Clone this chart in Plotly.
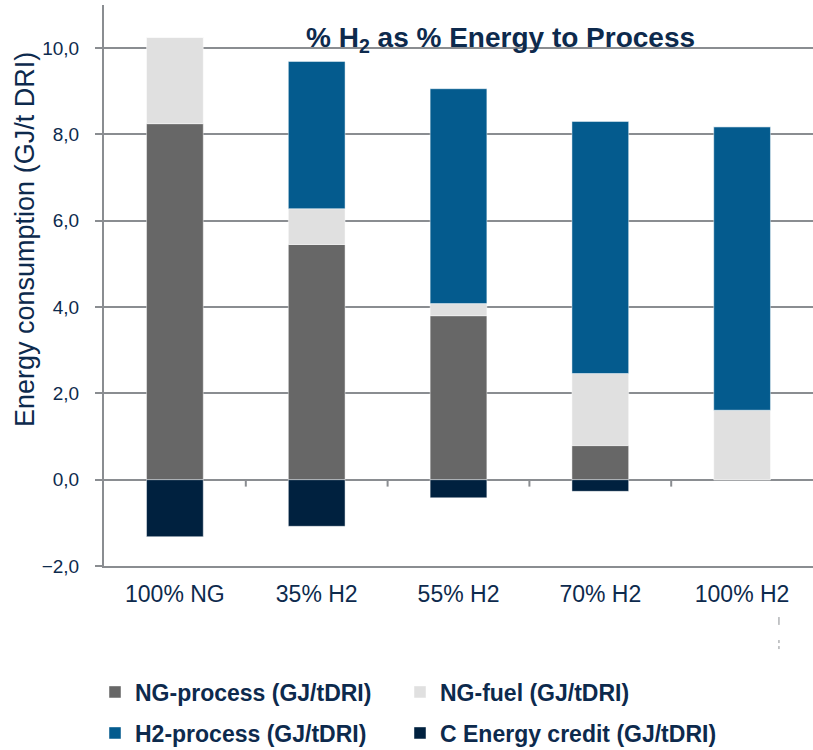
import plotly.graph_objects as go

categories = ["100% NG", "35% H2", "55% H2", "70% H2", "100% H2"]
ng_process = [8.25, 5.45, 3.80, 0.79, 0.0]
ng_fuel = [2.00, 0.83, 0.28, 1.67, 1.61]
h2_process = [0.0, 3.41, 4.98, 5.84, 6.57]
c_credit = [-1.32, -1.08, -0.42, -0.27, 0.0]
y_ticks = [-2, 0, 2, 4, 6, 8, 10]

NAVY = "#0d2a4d"
GRID = "#8a8d91"
FONT = "Liberation Sans, Arial, sans-serif"

fig = go.Figure()
line = dict(color="rgba(255,255,255,0.45)", width=1)
fig.add_trace(go.Bar(x=categories, y=ng_process, name="NG-process (GJ/tDRI)",
                     marker=dict(color="#676767", line=line), legend="legend"))
fig.add_trace(go.Bar(x=categories, y=ng_fuel, name="NG-fuel (GJ/tDRI)",
                     marker=dict(color="#e0e0e0", line=line), legend="legend2"))
fig.add_trace(go.Bar(x=categories, y=h2_process, name="H2-process (GJ/tDRI)",
                     marker=dict(color="#045b8e", line=line), legend="legend3"))
fig.add_trace(go.Bar(x=categories, y=c_credit, name="C Energy credit (GJ/tDRI)",
                     marker=dict(color="#00213f", line=line), legend="legend4"))

shapes = []
for b in [0.5, 1.5, 2.5, 3.5]:
    shapes.append(dict(type="line", xref="x", yref="y", x0=b, x1=b, y0=0, y1=-0.16,
                       line=dict(color=GRID, width=2), layer="above"))
# small dashed artifacts bottom right
shapes.append(dict(type="line", xref="paper", yref="paper", x0=0.952, x1=0.952,
                   y0=-0.091, y1=-0.105, line=dict(color=GRID, width=1)))
shapes.append(dict(type="line", xref="paper", yref="paper", x0=0.952, x1=0.952,
                   y0=-0.132, y1=-0.153, line=dict(color=GRID, width=1, dash="dot")))

legend_common = dict(orientation="h", xref="container", yref="container",
                     xanchor="left", yanchor="middle",
                     font=dict(family=FONT, size=23, color=NAVY, weight="bold"),
                     bgcolor="rgba(0,0,0,0)", itemclick=False, itemdoubleclick=False)

fig.update_layout(
    width=813, height=750,
    margin=dict(l=104, r=0, t=5, b=184, autoexpand=False),
    paper_bgcolor="white", plot_bgcolor="white",
    barmode="relative", bargap=0.6,
    separators=", ",
    font=dict(family=FONT, color=NAVY),
    showlegend=True,
    legend=dict(legend_common, x=95 / 813, y=1 - 692 / 750),
    legend2=dict(legend_common, x=400 / 813, y=1 - 692 / 750),
    legend3=dict(legend_common, x=95 / 813, y=1 - 733 / 750),
    legend4=dict(legend_common, x=400 / 813, y=1 - 733 / 750),
    xaxis=dict(range=[-0.5, 4.5], showgrid=False, showline=True, linecolor=GRID, linewidth=2,
               ticks="", tickfont=dict(family=FONT, size=23, color=NAVY),
               ticklabelstandoff=6, zeroline=False, automargin=False),
    yaxis=dict(range=[-2, 11], tickvals=y_ticks, tickformat=".1f",
               showgrid=True, gridcolor=GRID, gridwidth=2,
               zeroline=True, zerolinecolor=GRID, zerolinewidth=2,
               showline=True, linecolor=GRID, linewidth=2,
               ticks="outside", ticklen=7, tickwidth=2, tickcolor=GRID,
               ticklabelstandoff=12, automargin=False,
               tickfont=dict(family=FONT, size=19, color=NAVY)),
    shapes=shapes,
    annotations=[
        dict(text="% H<sub>2</sub> as % Energy to Process", xref="paper", yref="paper",
             x=(500 - 104) / 709, y=(566 - 40) / 561, xanchor="center", yanchor="middle",
             showarrow=False, font=dict(family=FONT, size=28, color=NAVY, weight="bold")),
        dict(text="Energy consumption (GJ/t DRI)", xref="paper", yref="paper",
             x=(25 - 104) / 709, y=(566 - 240) / 561, xanchor="center", yanchor="middle",
             textangle=-90, showarrow=False, font=dict(family=FONT, size=27, color=NAVY)),
    ],
)

fig.write_html("out.html", config={"displayModeBar": False},
               post_script="document.body.style.margin='0';")
